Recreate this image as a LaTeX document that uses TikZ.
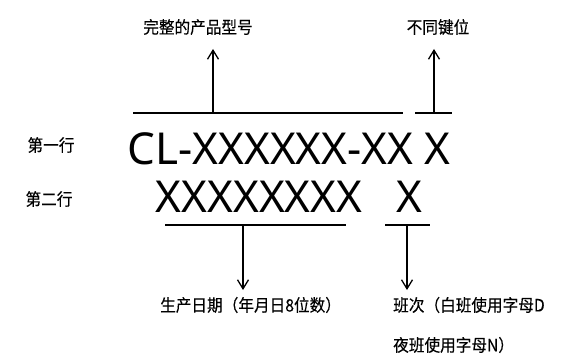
\documentclass[tikz,border=0pt]{standalone}
\usepackage{fontspec}
\setmainfont{Noto Sans}
\newfontfamily\cjk[FakeStretch=0.92,FakeBold=0.2]{Noto Sans CJK SC}
\usetikzlibrary{arrows.meta}
\begin{document}
\begin{tikzpicture}[x=1pt,y=-1pt,
  cn/.style={font=\cjk\fontsize{17}{19}\selectfont, inner sep=0pt},
  cnb/.style={font=\cjk\fontsize{17}{40}\selectfont, inner sep=0pt, align=left},
  big/.style={font=\fontsize{44}{46}\selectfont, inner sep=0pt},
  ln/.style={line width=1.3pt},
  arr/.style={line width=1.3pt, -{Straight Barb[length=9pt,width=11pt,line width=1.3pt]}}]
\useasboundingbox (0,0) rectangle (573,361);
\fill[white] (0,0) rectangle (573,361);
% texts
\node[cn] (t1) at (198,27) {完整的产品型号};
\node[cn] (t2) at (438,27) {不同键位};
\node[cn] (r1) at (51,145) {第一行};
\node[cn] (r2) at (49,199) {第二行};
\node[big] (l1) at (289,149) {CL-XXXXXX-XX X};
\node[big] (l2a) at (259,197) {XXXXXXXX};
\node[big] (l2b) at (409,197) {X};
\node[cn, anchor=west] (b1) at (160,305) {生产日期（年月日8位数）};
\node[cnb, anchor=west] (b2) at (393,325) {班次（白班使用字母D\\夜班使用字母N）};
% coordinates
\coordinate (h1a) at (133,113); \coordinate (h1b) at (403,113);
\coordinate (h2a) at (415,113); \coordinate (h2b) at (452,113);
\coordinate (u1b) at (213,113); \coordinate (u1t) at (213,49);
\coordinate (u2b) at (434,113); \coordinate (u2t) at (434,49);
\coordinate (h3a) at (165,225); \coordinate (h3b) at (346,225);
\coordinate (h4a) at (385,225); \coordinate (h4b) at (430,225);
\coordinate (d1t) at (243,225); \coordinate (d1b) at (243,290);
\coordinate (d2t) at (407,225); \coordinate (d2b) at (407,290);
% lines
\draw[ln] (h1a) -- (h1b);
\draw[ln] (h2a) -- (h2b);
\draw[ln] (h3a) -- (h3b);
\draw[ln] (h4a) -- (h4b);
\draw[arr] (u1b) -- (u1t);
\draw[arr] (u2b) -- (u2t);
\draw[arr] (d1t) -- (d1b);
\draw[arr] (d2t) -- (d2b);
\end{tikzpicture}
\end{document}
